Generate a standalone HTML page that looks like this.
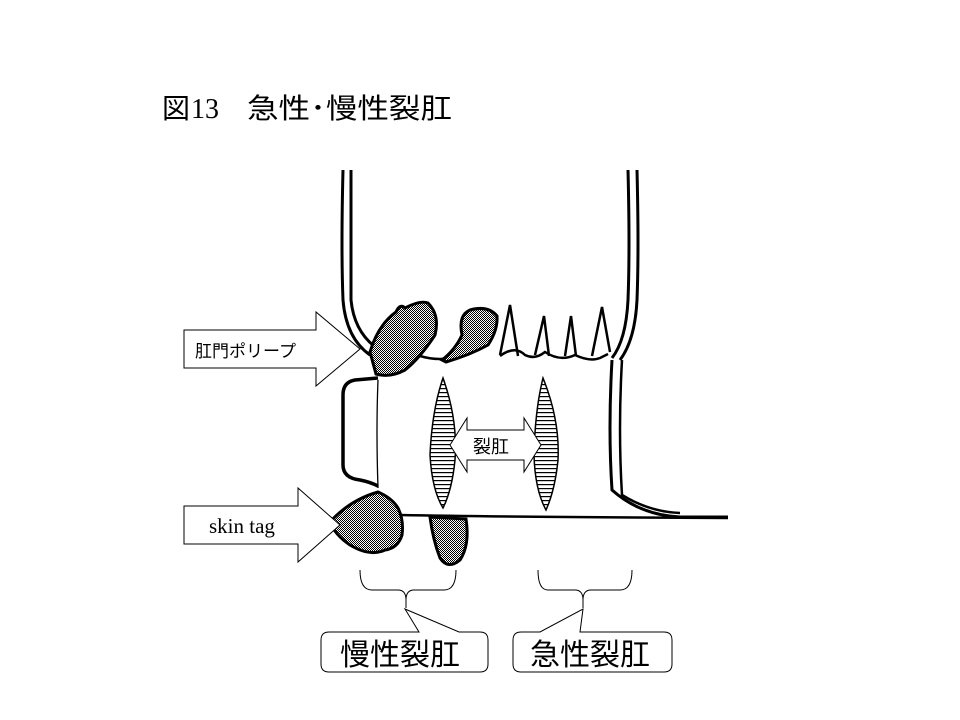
<!DOCTYPE html>
<html><head><meta charset="utf-8"><style>
html,body{margin:0;padding:0;background:#fff;}
svg{display:block;}
text{font-family:"Liberation Serif","Noto Sans CJK JP",serif;}
.j{font-family:"Liberation Sans","Noto Sans CJK JP",sans-serif;}
</style></head><body>
<svg width="960" height="720" viewBox="0 0 960 720" xmlns="http://www.w3.org/2000/svg">
<defs>
<pattern id="dots" width="2" height="2" patternUnits="userSpaceOnUse">
<rect width="2" height="2" fill="#fff"/><rect width="1" height="1" fill="#000"/><rect x="1" y="1" width="1" height="1" fill="#000"/>
</pattern>
<pattern id="hl" width="4" height="4" patternUnits="userSpaceOnUse">
<rect width="4" height="4" fill="#fff"/><rect y="0" width="4" height="1.2" fill="#000"/>
</pattern>
</defs>
<text x="162" y="118" font-size="28" class="j">図</text>
<text x="191" y="118" font-size="28">13</text>
<text x="247" y="118" font-size="28" class="j" textLength="205" lengthAdjust="spacingAndGlyphs">急性･慢性裂肛</text>

<g fill="none" stroke="#000" stroke-width="3">
<!-- left walls -->
<path d="M343 170 Q341 250 343 300 Q346 338 370 355"/>
<path d="M351 170 L351 300 Q354 330 374 346"/>
<!-- right walls -->
<path d="M628 170 Q630 250 628 300 Q626 340 612 358"/>
<path d="M637 170 Q639 250 637 300 Q635 340 620 360"/>
<!-- dentate line -->
<path d="M420 356 Q440 362 458 356 M500 356 Q515 345 525 355 Q535 360 545 352 Q560 362 575 355 Q590 362 600 358 L608 354" stroke-width="2.5"/>
<!-- papillae -->
<path d="M500 355 L510 305 L518 356 M535 355 L544 316 L549 356 M565 356 L571 316 L576 356 M592 356 L602 307 L610 352" stroke-width="2.5"/>
<!-- right inner wall down -->
<path d="M612 360 Q608 430 612 490 Q640 515 680 517 L728 517" stroke-width="3"/>
<path d="M622 360 Q618 430 622 495 Q650 512 680 513" stroke-width="2.5"/>
<!-- bottom skin line -->
<path d="M400 515 Q500 517 728 518" stroke-width="2.5"/>
<!-- left external bump -->
<path d="M378 378 L355 380 Q343 382 343 395 L343 465 Q343 478 360 480 Q370 482 378 486" stroke-width="3.5"/>
<path d="M378 380 Q376 430 378 488" stroke-width="1.3"/>
</g>

<!-- anal polyps -->
<path d="M370 352 Q378 325 396 312 Q400 303 405 308 Q420 300 428 303 Q440 315 435 335 Q420 358 405 370 Q390 378 376 374 Z" fill="url(#dots)" stroke="#000" stroke-width="3"/>
<path d="M442 360 Q455 350 462 335 Q458 315 470 310 Q488 305 497 316 Q498 330 488 345 Q470 355 446 362 Z" fill="url(#dots)" stroke="#000" stroke-width="3"/>
<!-- skin tag -->
<path d="M330 522 Q350 500 378 492 Q392 498 398 508 Q404 520 402 535 Q398 548 385 550 Q370 557 350 545 Q335 535 330 522 Z" fill="url(#dots)" stroke="#000" stroke-width="3"/>
<path d="M430 517 L466 519 Q470 545 460 560 Q448 570 440 558 Q433 540 430 517 Z" fill="url(#dots)" stroke="#000" stroke-width="3"/>

<!-- fissures -->
<path d="M443 378 Q458 420 455 460 Q452 490 443 508 Q432 490 430 455 Q432 410 443 378 Z" fill="url(#hl)" stroke="#000" stroke-width="1.5"/>
<path d="M543 378 Q560 420 558 460 Q555 490 546 510 Q535 490 534 455 Q535 410 543 378 Z" fill="url(#hl)" stroke="#000" stroke-width="1.5"/>

<!-- double arrow 裂肛 -->
<path d="M450 445 L467 418 L467 430 L524 430 L524 418 L541 445 L524 472 L524 460 L467 460 L467 472 Z" fill="#fff" stroke="#000" stroke-width="1"/>
<text x="473" y="453" font-size="18" class="j">裂肛</text>

<!-- block arrows -->
<path d="M184 330 L316 330 L316 312 L360 349 L316 386 L316 368 L184 368 Z" fill="#fff" stroke="#000" stroke-width="1"/>
<text x="195" y="357" font-size="17" class="j">肛門ポリープ</text>
<path d="M184 506 L298 506 L298 488 L340 525 L298 562 L298 544 L184 544 Z" fill="#fff" stroke="#000" stroke-width="1"/>
<text x="209" y="533" font-size="21">skin tag</text>

<!-- braces -->
<g fill="none" stroke="#000" stroke-width="1">
<path d="M360 570 Q360 590 372 590 L398 590 Q406 590 406 600 L406 608 M406 600 Q406 590 414 590 L444 590 Q456 590 456 570"/>
<path d="M538 570 Q538 590 548 590 L575 590 Q583 590 583 600 L583 608 M583 600 Q583 590 591 590 L620 590 Q632 590 632 570"/>
</g>
<!-- callout boxes -->
<path d="M329 632 L419 632 L405 609 L459 632 L480 632 Q488 632 488 640 L488 664 Q488 672 480 672 L329 672 Q321 672 321 664 L321 640 Q321 632 329 632 Z" fill="#fff" stroke="#000" stroke-width="1"/>
<text x="340" y="665" font-size="30" class="j">慢性裂肛</text>
<path d="M521 632 L540 632 L583 609 L580 632 L664 632 Q672 632 672 640 L672 664 Q672 672 664 672 L521 672 Q513 672 513 664 L513 640 Q513 632 521 632 Z" fill="#fff" stroke="#000" stroke-width="1"/>
<text x="530" y="665" font-size="30" class="j">急性裂肛</text>
</svg>
</body></html>
